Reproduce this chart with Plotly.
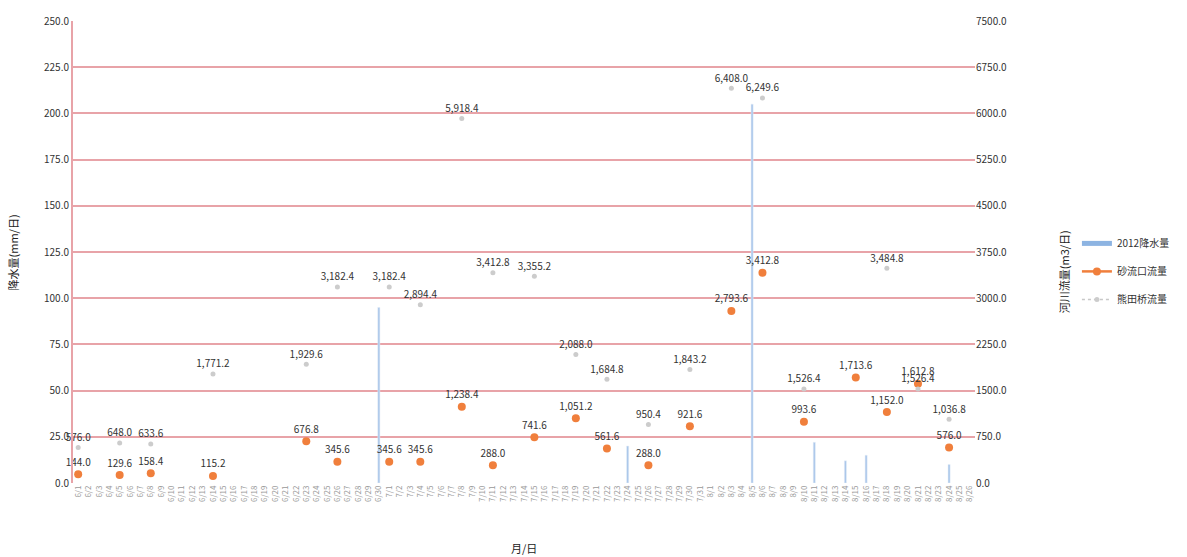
import datetime as dt
import plotly.graph_objects as go

# ---- categories (月/日) ----
start = dt.date(2012, 6, 1)
dates = [(start + dt.timedelta(days=i)) for i in range(87)]
date_labels = [f"{d.month}/{d.day}" for d in dates]

# ---- precipitation 2012 (mm/日), sparse ----
rain_idx = [29, 53, 65, 71, 74, 76, 84]
rain_val = [95.0, 20.0, 205.0, 22.0, 12.0, 15.0, 10.0]

# ---- orange flow series (m3/日) ----
orange_idx = [0, 4, 7, 13, 22, 25, 30, 33, 37, 40, 44, 48, 51, 55, 59, 63, 66, 70, 75, 78, 81, 84]
orange_val = [144.0, 129.6, 158.4, 115.2, 676.8, 345.6, 345.6, 345.6, 1238.4, 288.0, 741.6,
              1051.2, 561.6, 288.0, 921.6, 2793.6, 3412.8, 993.6, 1713.6, 1152.0, 1612.8, 576.0]

# ---- gray flow series (m3/日) ----
gray_idx = [0, 4, 7, 13, 22, 25, 30, 33, 37, 40, 44, 48, 51, 55, 59, 63, 66, 70, 78, 81, 84]
gray_val = [576.0, 648.0, 633.6, 1771.2, 1929.6, 3182.4, 3182.4, 2894.4, 5918.4, 3412.8, 3355.2,
            2088.0, 1684.8, 950.4, 1843.2, 6408.0, 6249.6, 1526.4, 3484.8, 1526.4, 1036.8]

rain = [None] * len(date_labels)
for i, v in zip(rain_idx, rain_val):
    rain[i] = v
orange = [None] * len(date_labels)
for i, v in zip(orange_idx, orange_val):
    orange[i] = v
gray = [None] * len(date_labels)
for i, v in zip(gray_idx, gray_val):
    gray[i] = v

def fmt(v):
    return None if v is None else f"{v:,.1f}"

FONT = "Noto Sans CJK JP"
BLUE = "#A9C6EA"
fig = go.Figure()
fig.add_trace(go.Bar(x=date_labels, y=rain, name="2012降水量", marker_color=BLUE,
                     width=0.2, yaxis="y", showlegend=False))
# legend entry for the bars drawn as a thick line (as in the reference legend)
fig.add_trace(go.Scatter(x=[None], y=[None], name="2012降水量", mode="lines",
                         line=dict(color="#8DB4E2", width=5), legendgroup="a"))
fig.add_trace(go.Scatter(x=date_labels, y=orange, name="砂流口流量", mode="lines+markers+text",
                         line=dict(color="#F07F3C", width=2.5), marker=dict(color="#F07F3C", size=8),
                         text=[fmt(v) for v in orange], textposition="top center",
                         textfont=dict(size=10, color="#333333", family=FONT),
                         connectgaps=False, cliponaxis=False, yaxis="y2", legendgroup="b"))
fig.add_trace(go.Scatter(x=date_labels, y=gray, name="熊田桥流量", mode="lines+markers+text",
                         line=dict(color="#C8C8C8", width=1.5, dash="dot"),
                         marker=dict(color="#CCCCCC", size=5),
                         text=[fmt(v) for v in gray], textposition="top center",
                         textfont=dict(size=10, color="#333333", family=FONT),
                         connectgaps=False, cliponaxis=False, yaxis="y2", legendgroup="c"))

grid_col = "#E8A3A8"
fig.update_layout(
    width=1187, height=557,
    margin=dict(l=73, r=212, t=16, b=74),
    paper_bgcolor="white", plot_bgcolor="white",
    font=dict(family=FONT, size=10, color="#333333"),
    showlegend=True,
    legend=dict(x=1.113, y=0.55, xanchor="left", yanchor="top",
                font=dict(size=10, family=FONT), bgcolor="rgba(0,0,0,0)",
                itemwidth=30, tracegroupgap=9),
    xaxis=dict(type="category", tickangle=-90, tickfont=dict(size=8, color="#999999"),
               tickmode="array", tickvals=date_labels, ticktext=date_labels,
               showgrid=False, showline=False, ticks="", range=[-0.5, 86.5]),
    yaxis=dict(range=[0, 250], dtick=25, tickformat=".1f", showgrid=True,
               gridcolor=grid_col, gridwidth=2, zeroline=False,
               showline=True, linecolor=grid_col, linewidth=2,
               tickfont=dict(size=10, color="#333333")),
    yaxis2=dict(range=[0, 7500], dtick=750, tickformat=".1f", overlaying="y", side="right",
                showgrid=False, zeroline=False, showline=False,
                tickfont=dict(size=10, color="#333333")),
    annotations=[
        dict(text="降水量(mm/日)", xref="paper", yref="paper", x=-0.066, y=0.5,
             xanchor="center", textangle=-90, showarrow=False, font=dict(size=11, color="#222222")),
        dict(text="河川流量(m3/日)", xref="paper", yref="paper", x=1.098, y=0.457,
             xanchor="center", textangle=-90, showarrow=False, font=dict(size=11, color="#222222")),
        dict(text="月/日", xref="paper", yref="paper", x=0.5, y=-0.14, yanchor="middle",
             showarrow=False, font=dict(size=11, color="#222222")),
    ],
)

fig.write_html("out.html")
